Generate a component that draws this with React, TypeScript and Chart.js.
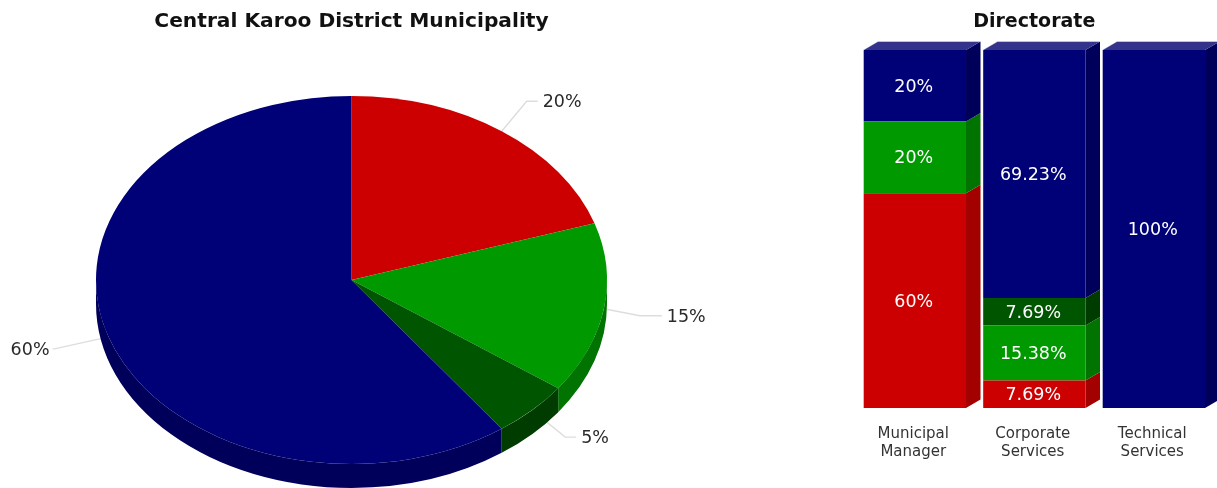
import React, { useEffect, useRef } from "react";
import { Chart, registerables } from "chart.js";

Chart.register(...registerables);

const FONT = "'DejaVu Sans', Verdana, sans-serif";

// Municipality-wide split
const pieLabels = ["Red", "Green", "Dark green", "Blue"];
const pieValues = [20, 15, 5, 60];

// Split per directorate
const categories = [["Municipal", "Manager"], ["Corporate", "Services"], ["Technical", "Services"]];
const redValues = [60, 7.69, 0];
const greenValues = [20, 15.38, 0];
const darkGreenValues = [0, 7.69, 0];
const blueValues = [20, 69.23, 100];

const faceColors = ["#CC0000", "#009900", "#005500", "#000077"];
const wallColors = ["#A30000", "#007300", "#003C00", "#00005A"];
const blockTopColor = "#33338C";

const PIE_DEPTH = 24;
const BAR_DEPTH_X = 14.5;
const BAR_DEPTH_Y = 8.5;

// Connector bends for the pie labels: elbow offset from the slice edge, then run to the text
const connectors = [
  { dx: 25, dy: -30, run: 11 },
  { dx: 36, dy: 7, run: 22 },
  { dx: 33, dy: 27, run: 11 },
  { dx: -54, dy: 12, run: -2 },
];

function pieGeometry(chart: any) {
  const a = chart.chartArea;
  return {
    cx: (a.left + a.right) / 2,
    cy: (a.top + a.bottom) / 2,
    rx: a.width / 2,
    ry: a.height / 2,
    stretch: a.width / a.height,
  };
}

// Flattens the round pie into an ellipse and adds the rim, connectors and labels.
const tiltedPie = {
  id: "tiltedPie",
  beforeDatasetsDraw(chart: any) {
    const { ctx } = chart;
    const { cx, cy, rx, ry } = pieGeometry(chart);
    const arcs = chart.getDatasetMeta(0).data;

    ctx.save();
    arcs.forEach((arc: any, i: number) => {
      const c = connectors[i];
      const mid = (arc.startAngle + arc.endAngle) / 2;
      const x = cx + rx * Math.cos(mid);
      const y = cy + ry * Math.sin(mid);
      ctx.strokeStyle = "#DDDDDD";
      ctx.lineWidth = 1.4;
      ctx.beginPath();
      ctx.moveTo(x, y);
      ctx.lineTo(x + c.dx, y + c.dy);
      ctx.lineTo(x + c.dx + c.run, y + c.dy);
      ctx.stroke();

      ctx.font = `17.5px ${FONT}`;
      ctx.fillStyle = "#2A2A2A";
      ctx.textBaseline = "middle";
      ctx.textAlign = c.run < 0 ? "right" : "left";
      const gap = c.run < 0 ? -3 : 5;
      ctx.fillText(`${pieValues[i]}%`, x + c.dx + c.run + gap, y + c.dy + 1.5);
    });

    // Rim: only the part of each slice on the near half of the ellipse is visible
    arcs.forEach((arc: any, i: number) => {
      for (const shift of [-2 * Math.PI, 0, 2 * Math.PI]) {
        const from = Math.max(arc.startAngle + shift, 0);
        const to = Math.min(arc.endAngle + shift, Math.PI);
        if (to <= from) continue;
        ctx.fillStyle = wallColors[i];
        ctx.beginPath();
        ctx.ellipse(cx, cy, rx, ry, 0, from, to);
        ctx.ellipse(cx, cy + PIE_DEPTH, rx, ry, 0, to, from, true);
        ctx.closePath();
        ctx.fill();
      }
    });
    ctx.restore();
  },
  beforeDatasetDraw(chart: any) {
    const { ctx } = chart;
    const { cx, stretch } = pieGeometry(chart);
    ctx.save();
    ctx.translate(cx, 0);
    ctx.scale(stretch, 1);
    ctx.translate(-cx, 0);
  },
  afterDatasetDraw(chart: any) {
    chart.ctx.restore();
  },
};

// Gives each stacked segment a side wall, caps each stack and writes the values.
const blockBars = {
  id: "blockBars",
  beforeDatasetsDraw(chart: any) {
    const { ctx } = chart;
    ctx.save();
    chart.data.datasets.forEach((ds: any, d: number) => {
      chart.getDatasetMeta(d).data.forEach((bar: any, i: number) => {
        if (!ds.data[i]) return;
        const right = bar.x + bar.width / 2;
        ctx.fillStyle = wallColors[d];
        ctx.beginPath();
        ctx.moveTo(right, bar.y);
        ctx.lineTo(right + BAR_DEPTH_X, bar.y - BAR_DEPTH_Y);
        ctx.lineTo(right + BAR_DEPTH_X, bar.base - BAR_DEPTH_Y);
        ctx.lineTo(right, bar.base);
        ctx.closePath();
        ctx.fill();
      });
    });
    const last = chart.data.datasets.length - 1;
    chart.getDatasetMeta(last).data.forEach((bar: any) => {
      const left = bar.x - bar.width / 2;
      const right = bar.x + bar.width / 2;
      ctx.fillStyle = blockTopColor;
      ctx.beginPath();
      ctx.moveTo(left, bar.y);
      ctx.lineTo(left + BAR_DEPTH_X, bar.y - BAR_DEPTH_Y);
      ctx.lineTo(right + BAR_DEPTH_X, bar.y - BAR_DEPTH_Y);
      ctx.lineTo(right, bar.y);
      ctx.closePath();
      ctx.fill();
    });
    ctx.restore();
  },
  afterDatasetsDraw(chart: any) {
    const { ctx } = chart;
    ctx.save();

    // Pale outline along the left edge of every stack and around its cap
    const topMeta = chart.getDatasetMeta(chart.data.datasets.length - 1).data;
    topMeta.forEach((bar: any) => {
      const left = bar.x - bar.width / 2;
      const right = bar.x + bar.width / 2;
      ctx.strokeStyle = "rgba(255,255,255,0.4)";
      ctx.lineWidth = 1;
      ctx.beginPath();
      ctx.moveTo(left, chart.scales.y.bottom);
      ctx.lineTo(left, bar.y);
      ctx.lineTo(left + BAR_DEPTH_X, bar.y - BAR_DEPTH_Y);
      ctx.lineTo(right + BAR_DEPTH_X, bar.y - BAR_DEPTH_Y);
      ctx.stroke();
    });

    ctx.font = `17.5px ${FONT}`;
    ctx.fillStyle = "#FFFFFF";
    ctx.textAlign = "center";
    ctx.textBaseline = "middle";
    chart.data.datasets.forEach((ds: any, d: number) => {
      chart.getDatasetMeta(d).data.forEach((bar: any, i: number) => {
        if (!ds.data[i]) return;
        ctx.fillText(`${ds.data[i]}%`, bar.x - 1, (bar.y + bar.base) / 2 + 1.5);
      });
    });
    ctx.restore();
  },
};

export default function App() {
  const pieRef = useRef<HTMLCanvasElement>(null);
  const barRef = useRef<HTMLCanvasElement>(null);

  useEffect(() => {
    const pie = new Chart(pieRef.current!, {
      type: "pie",
      data: {
        labels: pieLabels,
        datasets: [{ data: pieValues, backgroundColor: faceColors, borderWidth: 0, clip: false } as any],
      },
      options: {
        animation: false,
        responsive: false,
        layout: { padding: { left: 96, right: 113, top: 0, bottom: 24 } },
        plugins: {
          legend: { display: false },
          tooltip: { enabled: false },
          title: {
            display: true,
            text: "Central Karoo District Municipality",
            color: "#111",
            font: { family: FONT, size: 20.2, weight: "bold" },
            padding: { top: 10, bottom: 61.8 },
          },
        },
      },
      plugins: [tiltedPie],
    });

    const seriesValues = [redValues, greenValues, darkGreenValues, blueValues];
    const bars = new Chart(barRef.current!, {
      type: "bar",
      data: {
        labels: categories as any,
        datasets: seriesValues.map((data, i) => ({
          data,
          backgroundColor: faceColors[i],
          borderWidth: 0,
          barPercentage: 1,
          categoryPercentage: 0.858,
        })),
      },
      options: {
        animation: false,
        responsive: false,
        layout: { padding: { left: 5, right: 3.5, top: 0, bottom: 0 } },
        plugins: {
          legend: { display: false },
          tooltip: { enabled: false },
          title: {
            display: true,
            text: "Directorate",
            color: "#111",
            font: { family: FONT, size: 19, weight: "bold" },
            padding: { top: 11, bottom: 16.2 },
          },
        },
        scales: {
          x: {
            stacked: true,
            grid: { display: false },
            border: { display: false },
            ticks: {
              color: "#333",
              font: { family: FONT, size: 15, lineHeight: 1.2 },
              maxRotation: 0,
              padding: 9,
              labelOffset: -1.5,
            },
            afterFit: (scale: any) => {
              scale.height = 80;
            },
          },
          y: { stacked: true, display: false, min: 0, max: 100 },
        },
      },
      plugins: [blockBars],
    });

    return () => {
      pie.destroy();
      bars.destroy();
    };
  }, []);

  return (
    <div style={{ position: "absolute", left: 0, top: 0, width: 1217, height: 488, overflow: "hidden", background: "#fff" }}>
      <canvas ref={pieRef} width={720} height={488} style={{ position: "absolute", left: 0, top: 0 }} />
      <canvas ref={barRef} width={367} height={488} style={{ position: "absolute", left: 850, top: 0 }} />
    </div>
  );
}
